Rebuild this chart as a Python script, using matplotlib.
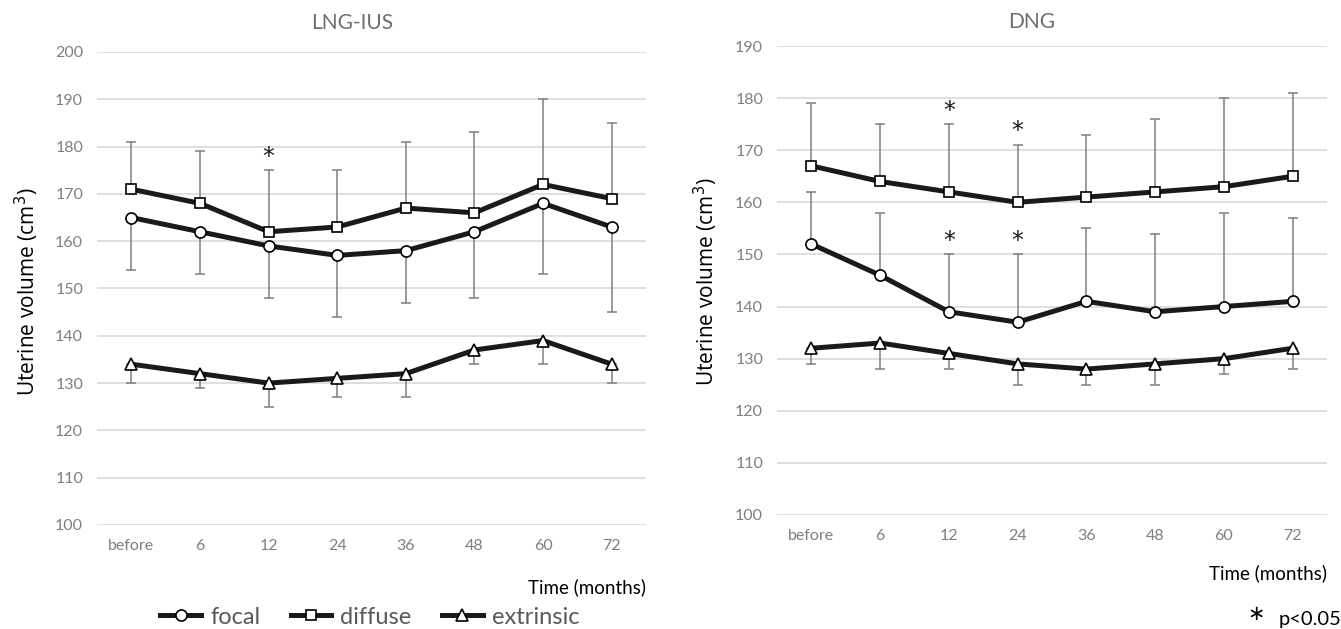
import matplotlib.pyplot as plt
import numpy as np

# categories
times = ['before', '6', '12', '24', '36', '48', '60', '72']

# LNG-IUS panel
lng_focal = [165, 162, 159, 157, 158, 162, 168, 163]
lng_focal_low = [154, 153, 148, 144, 147, 148, 153, 145]
lng_diffuse = [171, 168, 162, 163, 167, 166, 172, 169]
lng_diffuse_high = [181, 179, 175, 175, 181, 183, 190, 185]
lng_extr = [134, 132, 130, 131, 132, 137, 139, 134]
lng_extr_low = [130, 129, 125, 127, 127, 134, 134, 130]
lng_stars = [(2, 'diffuse')]

# DNG panel
dng_focal = [152, 146, 139, 137, 141, 139, 140, 141]
dng_focal_high = [162, 158, 150, 150, 155, 154, 158, 157]
dng_diffuse = [167, 164, 162, 160, 161, 162, 163, 165]
dng_diffuse_high = [179, 175, 175, 171, 173, 176, 180, 181]
dng_extr = [132, 133, 131, 129, 128, 129, 130, 132]
dng_extr_low = [129, 128, 128, 125, 125, 125, 127, 128]
dng_stars = [(2, 'diffuse'), (3, 'diffuse'), (2, 'focal'), (3, 'focal')]

FONT = 'Lato'
GRAY = '#7f7f7f'

fig = plt.figure(figsize=(13.41, 6.29), dpi=100)
ax1 = fig.add_axes([97 / 1341, 1 - 525 / 629, 549 / 1341, 473 / 629])
ax2 = fig.add_axes([777 / 1341, 1 - 515 / 629, 550 / 1341, 469 / 629])

x = np.arange(len(times))


def err(ax, vals, lo=None, hi=None):
    v = np.array(vals)
    down = v - np.array(lo) if lo is not None else np.zeros_like(v)
    up = np.array(hi) - v if hi is not None else np.zeros_like(v)
    ax.errorbar(x, v, yerr=[down, up], fmt='none', ecolor=GRAY, elinewidth=1.1,
                capsize=3.5, capthick=1.1, zorder=2)


def series(ax, vals, marker, label, ms):
    return ax.plot(x, vals, color='#1a1a1a', lw=3.6, marker=marker, ms=ms,
                   mfc='white', mec='black', mew=1.2, label=label, zorder=3)[0]


def style(ax, ymin, ymax):
    ax.set_xlim(-0.5, 7.5)
    ax.set_ylim(ymin, ymax)
    ax.set_yticks(np.arange(ymin, ymax + 1, 10))
    ax.set_xticks(x)
    ax.set_xticklabels(times)
    ax.grid(axis='y', color='#d9d9d9', lw=1.2)
    ax.set_axisbelow(True)
    for s in ax.spines.values():
        s.set_visible(False)
    ax.tick_params(length=0, labelsize=11.5, labelcolor=GRAY, pad=10)
    for t in ax.get_xticklabels() + ax.get_yticklabels():
        t.set_fontfamily(FONT)


def star(ax, i, top):
    ax.text(i, top + 0.3, '*', ha='center', va='bottom', fontsize=17,
            fontfamily='DejaVu Sans', color='#1a1a1a')


# left panel
err(ax1, lng_focal, lo=lng_focal_low)
err(ax1, lng_diffuse, hi=lng_diffuse_high)
err(ax1, lng_extr, lo=lng_extr_low)
h1 = series(ax1, lng_focal, 'o', 'focal', 8)
h2 = series(ax1, lng_diffuse, 's', 'diffuse', 7.5)
h3 = series(ax1, lng_extr, '^', 'extrinsic', 8)
style(ax1, 100, 200)
for i, s in lng_stars:
    star(ax1, i, lng_diffuse_high[i] if s == 'diffuse' else lng_focal_low[i])

# right panel
err(ax2, dng_focal, hi=dng_focal_high)
err(ax2, dng_diffuse, hi=dng_diffuse_high)
err(ax2, dng_extr, lo=dng_extr_low)
series(ax2, dng_focal, 'o', 'focal', 8)
series(ax2, dng_diffuse, 's', 'diffuse', 7.5)
series(ax2, dng_extr, '^', 'extrinsic', 8)
style(ax2, 100, 190)
for i, s in dng_stars:
    star(ax2, i, dng_diffuse_high[i] if s == 'diffuse' else dng_focal_high[i])

# titles and labels
fig.text(352 / 1341, 1 - 23 / 629, 'LNG-IUS', ha='center', va='center',
         fontsize=15, color='#6e6e6e', fontfamily=FONT)
fig.text(1032 / 1341, 1 - 22 / 629, 'DNG', ha='center', va='center',
         fontsize=15, color='#6e6e6e', fontfamily=FONT)
fig.text(27 / 1341, 1 - 292 / 629, 'Uterine volume (cm$^3$)', rotation=90,
         ha='center', va='center', fontsize=15, fontfamily='Open Sans')
fig.text(706 / 1341, 1 - 282 / 629, 'Uterine volume (cm$^3$)', rotation=90,
         ha='center', va='center', fontsize=15, fontfamily='Open Sans')
fig.text(646 / 1341, 1 - 587 / 629, 'Time (months)', ha='right', va='center',
         fontsize=13.5, fontfamily=FONT)
fig.text(1327 / 1341, 1 - 573 / 629, 'Time (months)', ha='right', va='center',
         fontsize=13.5, fontfamily=FONT)
fig.text(1341 / 1341, 1 - 619 / 629, 'p<0.05', ha='right', va='center',
         fontsize=14.5, fontfamily=FONT)
fig.text(1265 / 1341, 1 - 614 / 629, '\u2217', ha='right', va='center',
         fontsize=15, fontfamily='DejaVu Sans')

fig.legend(handles=[h1, h2, h3], loc='center', bbox_to_anchor=(370 / 1341, 1 - 617 / 629),
           ncol=3, frameon=False, handlelength=1.7, handletextpad=0.4, columnspacing=1.3,
           prop={'family': FONT, 'size': 17}, labelcolor='#595959')

fig.savefig('out.png', dpi=100)
